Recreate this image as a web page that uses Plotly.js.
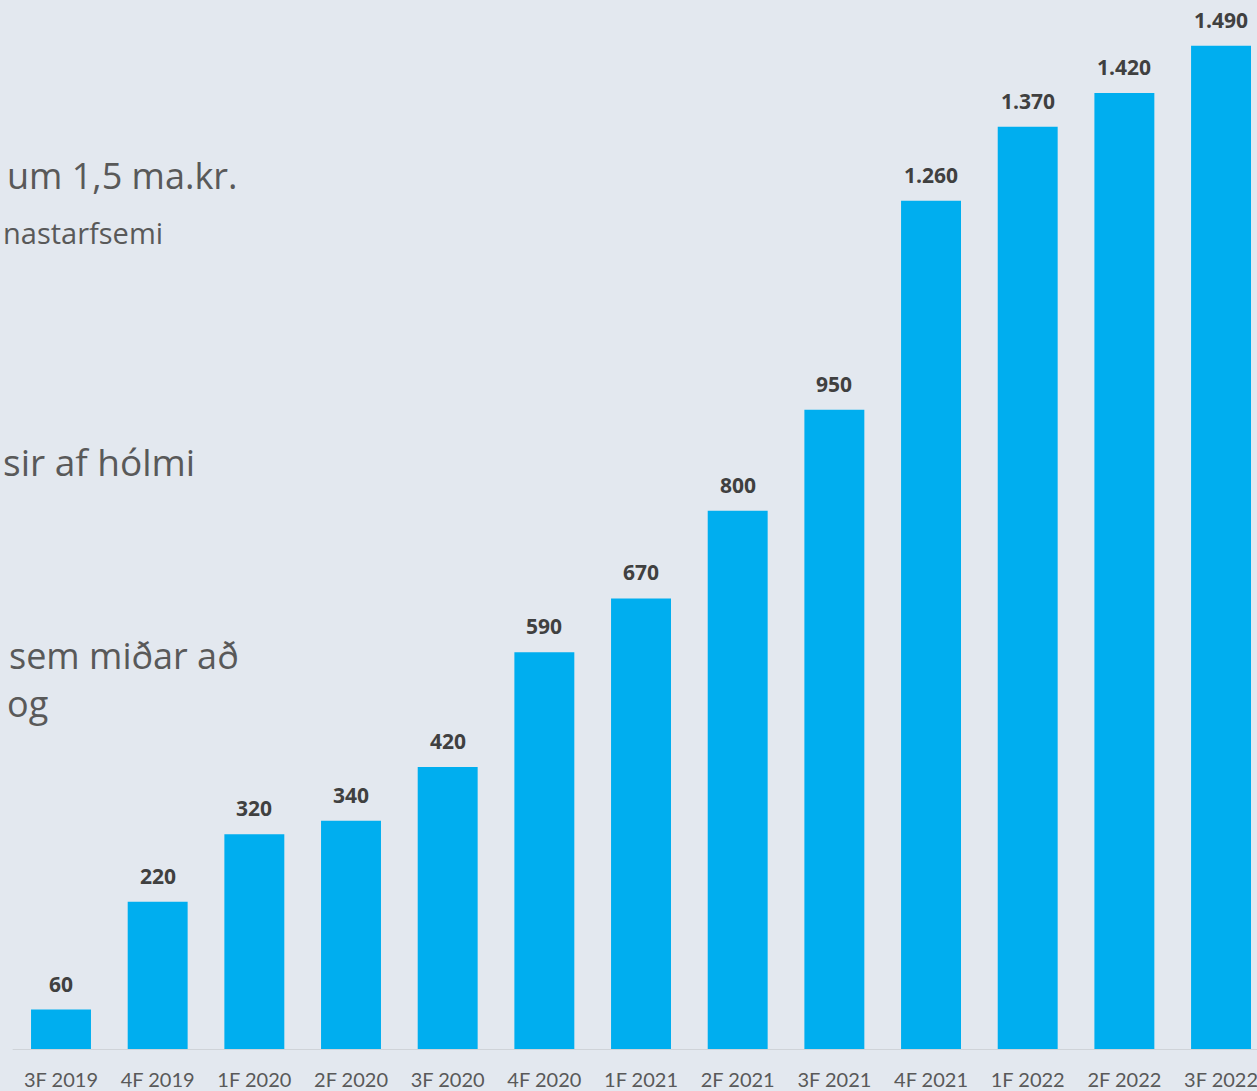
<!DOCTYPE html>
<html>
<head>
<meta charset="utf-8">
<script src="https://cdn.plot.ly/plotly-3.0.1.min.js"></script>
<style>
  html, body { margin: 0; padding: 0; background: #e3e8ef; }
  #chart { width: 1257px; height: 1091px; }
</style>
</head>
<body>
<div id="chart"></div>
<script>
// Quarters and values
const quarters = ['3F 2019', '4F 2019', '1F 2020', '2F 2020', '3F 2020', '4F 2020',
                  '1F 2021', '2F 2021', '3F 2021', '4F 2021', '1F 2022', '2F 2022', '3F 2022'];
const amounts = [60, 220, 320, 340, 420, 590, 670, 800, 950, 1260, 1370, 1420, 1490];

// Fragments of slide text that sit to the left of the chart
const sideTexts = ['um 1,5 ma.kr.', 'nastarfsemi', 'sir af hólmi', 'sem miðar að', 'og'];
const sideY = [176, 232, 462, 655, 703];
const sideX = [5, 1, 1, 7, 5];
const sideSize = [36, 29, 37, 36, 36];

// Icelandic thousands separator
const fmt = v => String(v).replace(/\B(?=(\d{3})+(?!\d))/g, '.');

const trace = {
    x: quarters,
    y: amounts,
    type: 'bar',
    marker: { color: '#00aeef', line: { width: 0 } },
    hoverinfo: 'skip'
};

// Value labels above the bars
const valueLabels = quarters.map((q, i) => ({
    x: q,
    y: amounts[i],
    xref: 'x',
    yref: 'y',
    text: '<b>' + fmt(amounts[i]) + '</b>',
    showarrow: false,
    yanchor: 'middle',
    yshift: 26,
    font: { family: 'Open Sans, sans-serif', size: 21, color: '#404040' }
}));

const sideLabels = sideTexts.map((t, i) => ({
    x: sideX[i] / 1257,
    y: 1 - sideY[i] / 1050,
    xref: 'paper',
    yref: 'paper',
    text: t,
    showarrow: false,
    xanchor: 'left',
    yanchor: 'middle',
    font: { family: 'Open Sans, sans-serif', size: sideSize[i], color: '#595959' }
}));

const layout = {
    width: 1257,
    height: 1091,
    margin: { l: 0, r: 0, t: 0, b: 41 },
    paper_bgcolor: '#e3e8ef',
    plot_bgcolor: '#e3e8ef',
    showlegend: false,
    bargap: 0.38,
    xaxis: {
        type: 'category',
        range: [-0.631, 12.372],
        showgrid: false,
        zeroline: false,
        showline: false,
        ticks: '',
        ticklabelstandoff: 16,
        tickfont: { family: 'Lato, sans-serif', size: 20, color: '#595959' },
        fixedrange: true
    },
    yaxis: {
        range: [0, 1558],
        showgrid: false,
        zeroline: false,
        showticklabels: false,
        fixedrange: true
    },
    shapes: [{
        type: 'line',
        xref: 'x',
        yref: 'y',
        x0: -0.5,
        x1: 12.6,
        y0: 0,
        y1: 0,
        line: { color: '#cfd3d8', width: 2 }
    }],
    annotations: valueLabels.concat(sideLabels)
};

Plotly.newPlot('chart', [trace], layout, { staticPlot: true, displayModeBar: false });
</script>
</body>
</html>
